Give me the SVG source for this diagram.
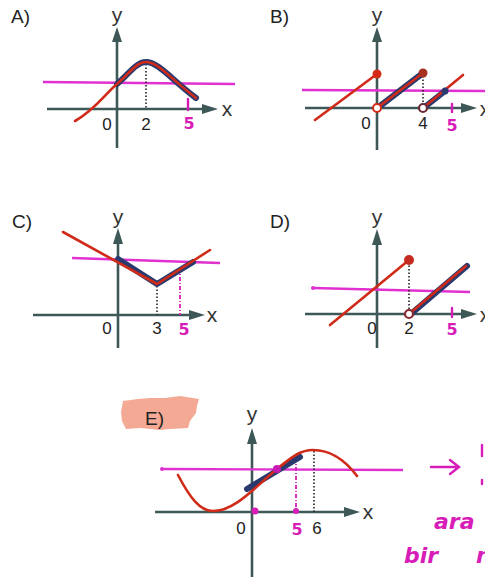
<svg xmlns="http://www.w3.org/2000/svg" width="485" height="582" viewBox="0 0 485 582">
<style>
.ax{stroke:#3e5858;stroke-width:2.6;fill:none}
.ah{fill:#3e5858}
.lbl{font-family:"Liberation Sans",Arial,sans-serif;font-size:19px;fill:#222}
.num{font-family:"Liberation Sans",Arial,sans-serif;font-size:17px;fill:#222;text-anchor:middle}
.xy{font-family:"Liberation Sans",Arial,sans-serif;font-size:21px;fill:#333;text-anchor:middle}
.mg{stroke:#e030d0;stroke-width:2.4;fill:none}
.mgs{stroke:#d81cb8;stroke-width:2.4;fill:none;stroke-linecap:round}
.hw{font-family:"DejaVu Sans",sans-serif;font-size:16px;fill:#d81cb8;text-anchor:middle;font-weight:bold}
.hw2{font-family:"DejaVu Sans",sans-serif;font-size:22px;fill:#d81cb8;font-style:italic;font-weight:bold}
.red{stroke:#d02a18;stroke-width:2.6;fill:none;stroke-linecap:round}
.blue{stroke:#2a3a6e;stroke-width:6;fill:none;stroke-linecap:round}
.dot{stroke:#222;stroke-width:1.6;stroke-dasharray:1.5 2;fill:none}
.dd{stroke:#d81cb8;stroke-width:1.8;stroke-dasharray:4 2 1 2;fill:none}
</style>

<g id="panelA">
  <text class="lbl" x="11" y="23">A)</text>
  <line class="ax" x1="117" y1="148" x2="117" y2="40"/>
  <polygon class="ah" points="117,27 112,42 122,42"/>
  <line class="ax" x1="47" y1="109" x2="205" y2="109"/>
  <polygon class="ah" points="218,109 202,104 202,114"/>
  <text class="xy" x="117" y="22">y</text>
  <text class="xy" x="227" y="116">x</text>
  <text class="num" x="107" y="130">0</text>
  <text class="num" x="146" y="130">2</text>
  <line class="mg" x1="43" y1="82" x2="235" y2="84"/>
  <line class="dot" x1="146" y1="64" x2="146" y2="109"/>
  <path class="blue" d="M117,84 C128,75 136,62 146,62 C158,62 170,78 196,98"/>
  <path class="red" d="M75,121 C95,110 105,94 117,84 C128,75 136,62 146,62 C158,62 170,78 196,98"/>
  <line class="mgs" x1="188" y1="99" x2="188" y2="110"/>
  <text class="hw" x="189" y="129">5</text>
</g>

<g id="panelB">
  <text class="lbl" x="270" y="23">B)</text>
  <line class="ax" x1="377" y1="150" x2="377" y2="40"/>
  <polygon class="ah" points="377,27 372,42 382,42"/>
  <line class="ax" x1="305" y1="108" x2="462" y2="108"/>
  <polygon class="ah" points="477,108 461,103 461,113"/>
  <text class="xy" x="377" y="22">y</text>
  <text class="xy" x="485" y="116">x</text>
  <text class="num" x="366" y="129">0</text>
  <text class="num" x="423" y="129">4</text>
  <line class="mg" x1="302" y1="90" x2="485" y2="91"/>
  <line class="red" x1="315" y1="120" x2="377" y2="74"/>
  <circle cx="377" cy="74" r="4.5" fill="#d42a18"/>
  <line class="blue" x1="380" y1="106" x2="423" y2="73"/>
  <line class="red" x1="377" y1="108" x2="423" y2="73"/>
  <line class="dot" x1="423" y1="76" x2="423" y2="108"/>
  <circle cx="423" cy="73" r="4.5" fill="#a83020"/>
  <line class="blue" x1="426" y1="106" x2="445" y2="91"/>
  <line class="red" x1="423" y1="108" x2="463" y2="75"/>
  <circle cx="445" cy="91" r="3.5" fill="#2a3a6e"/>
  <circle cx="377" cy="108" r="4" fill="#fff" stroke="#d42a18" stroke-width="2"/>
  <circle cx="423" cy="108" r="4" fill="#fff" stroke="#6a2a3a" stroke-width="2.2"/>
  <line class="mgs" x1="452" y1="104" x2="452" y2="112"/>
  <text class="hw" x="452" y="131">5</text>
</g>

<g id="panelC">
  <text class="lbl" x="12" y="228">C)</text>
  <line class="ax" x1="118" y1="348" x2="118" y2="243"/>
  <polygon class="ah" points="118,228 113,244 123,244"/>
  <line class="ax" x1="33" y1="315" x2="190" y2="315"/>
  <polygon class="ah" points="205,315 189,310 189,320"/>
  <text class="xy" x="118" y="224">y</text>
  <text class="xy" x="212" y="322">x</text>
  <text class="num" x="107" y="334">0</text>
  <text class="num" x="157" y="334">3</text>
  <line class="mg" x1="72" y1="258" x2="220" y2="263"/>
  <line class="dot" x1="157" y1="286" x2="157" y2="315"/>
  <line class="dd" x1="180" y1="268" x2="180" y2="315"/>
  <polyline class="blue" points="118,259 157,284 193,262" stroke-linejoin="round"/>
  <polyline class="red" points="63,232 157,284 210,250" stroke-linejoin="round"/>
  <text class="hw" x="184" y="335">5</text>
</g>

<g id="panelD">
  <text class="lbl" x="270" y="228">D)</text>
  <line class="ax" x1="377" y1="348" x2="377" y2="244"/>
  <polygon class="ah" points="377,229 372,245 382,245"/>
  <line class="ax" x1="305" y1="314" x2="462" y2="314"/>
  <polygon class="ah" points="477,314 461,309 461,319"/>
  <text class="xy" x="377" y="224">y</text>
  <text class="xy" x="485" y="322">x</text>
  <text class="num" x="372" y="334">0</text>
  <text class="num" x="409" y="334">2</text>
  <line class="mg" x1="313" y1="288" x2="470" y2="292"/>
  <circle cx="313" cy="288" r="2" fill="#e030d0"/>
  <line class="red" x1="330" y1="325" x2="409" y2="260"/>
  <line class="dot" x1="409" y1="262" x2="409" y2="314"/>
  <circle cx="409" cy="260" r="5" fill="#c42a20"/>
  <line class="blue" x1="412" y1="313" x2="467" y2="266"/>
  <line class="red" x1="409" y1="314" x2="466" y2="266"/>
  <circle cx="409" cy="314" r="4" fill="#fff" stroke="#8a2a30" stroke-width="2.2"/>
  <line class="mgs" x1="452" y1="308" x2="452" y2="317"/>
  <text class="hw" x="452" y="335">5</text>
</g>

<g id="panelE">
  <polygon points="123,401 138,399 150,398 165,398 180,396 199,399 197,406 196,413 190,421 188,428 170,429 160,430 140,428 126,429 122,421 121,412" fill="#f29a82" opacity="0.85"/>
  <text class="lbl" x="145" y="425">E)</text>
  <line class="ax" x1="252" y1="577" x2="252" y2="442"/>
  <polygon class="ah" points="252,428 247,444 257,444"/>
  <line class="ax" x1="155" y1="512" x2="346" y2="512"/>
  <polygon class="ah" points="360,512 344,507 344,517"/>
  <text class="xy" x="252" y="421">y</text>
  <text class="xy" x="368" y="519">x</text>
  <text class="num" x="241" y="534">0</text>
  <text class="num" x="317" y="534">6</text>
  <line class="mg" x1="162" y1="469" x2="403" y2="470"/>
  <circle cx="162" cy="469" r="2" fill="#e030d0"/>
  <line class="dot" x1="314" y1="451" x2="314" y2="512"/>
  <line class="dd" x1="296" y1="458" x2="296" y2="512"/>
  <line class="blue" x1="247" y1="489" x2="300" y2="457"/>
  <path class="red" d="M178,475 C190,498 200,511 213,511 C235,511 255,487 277,469 C292,457 300,450 313,450 C330,450 345,460 357,476"/>
  <circle cx="277" cy="469" r="4" fill="#c81ab0"/>
  <circle cx="255" cy="511" r="3.5" fill="#d81cb8"/>
  <circle cx="296" cy="511" r="3" fill="#d81cb8"/>
  <text class="hw" x="297" y="535">5</text>
  <path class="mgs" d="M431,467 L458,467 M450,460 L459,467 L450,474"/>
  <line class="mgs" x1="482" y1="445" x2="482" y2="456"/>
  <line class="mgs" x1="482" y1="480" x2="482" y2="484"/>
  <text class="hw2" x="434" y="529">ara</text>
  <text class="hw2" x="404" y="563">bir</text>
  <text class="hw2" x="476" y="563">n</text>
</g>
</svg>
